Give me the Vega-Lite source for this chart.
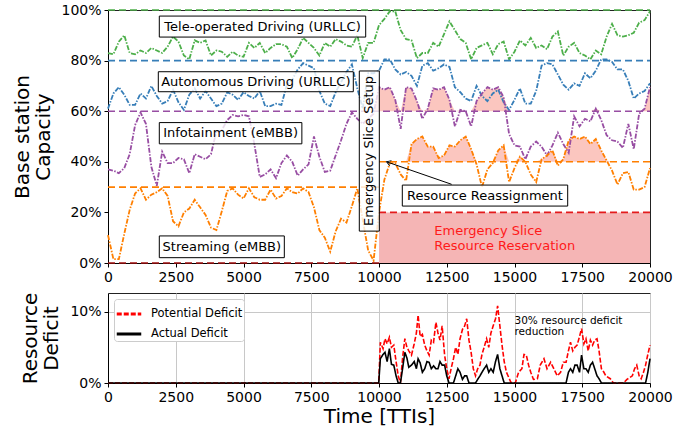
{
  "$schema": "https://vega.github.io/schema/vega-lite/v6.json",
  "padding": {"left": 12, "top": 2, "right": 5, "bottom": 5},
  "background": "white",
  "config": {
    "font": "DejaVu Sans",
    "view": {"stroke": "#222", "strokeWidth": 1},
    "axis": {"labelFont": "DejaVu Sans", "titleFont": "DejaVu Sans", "labelFontSize": 14, "titleFontSize": 20, "titleFontWeight": "normal", "labelColor": "black", "titleColor": "black", "domainColor": "black", "tickColor": "black", "tickSize": 4, "grid": false, "labelPadding": 3},
    "text": {"font": "DejaVu Sans"}
  },
  "resolve": {"scale": {"color": "independent", "strokeDash": "independent"}, "legend": {"color": "independent", "strokeDash": "independent"}},
  "datasets": {
    "slices": [
      {"t":0,"tele":83,"auto":61,"info":37,"stream":11},
      {"t":200,"tele":82.5,"auto":67,"info":36.5,"stream":1.5},
      {"t":400,"tele":87.5,"auto":69.5,"info":35.5,"stream":1.5},
      {"t":600,"tele":90,"auto":66.5,"info":37.5,"stream":11.5},
      {"t":800,"tele":83,"auto":62.5,"info":43,"stream":21},
      {"t":1000,"tele":82.5,"auto":62.5,"info":54.5,"stream":27.5},
      {"t":1200,"tele":84,"auto":67,"info":59.5,"stream":29.5},
      {"t":1400,"tele":83,"auto":65,"info":55,"stream":25},
      {"t":1600,"tele":85,"auto":70,"info":38,"stream":27},
      {"t":1800,"tele":84,"auto":66,"info":30.5,"stream":28},
      {"t":2000,"tele":83,"auto":63,"info":44,"stream":29.5},
      {"t":2200,"tele":85.5,"auto":64,"info":39.5,"stream":26.5},
      {"t":2400,"tele":89.5,"auto":68.5,"info":39.5,"stream":16.5},
      {"t":2600,"tele":87.5,"auto":63.5,"info":41.5,"stream":14.5},
      {"t":2800,"tele":82,"auto":60.5,"info":41,"stream":20},
      {"t":3000,"tele":80.5,"auto":66.5,"info":35.5,"stream":21.5},
      {"t":3200,"tele":88,"auto":69,"info":43,"stream":25},
      {"t":3400,"tele":87,"auto":65,"info":42,"stream":22},
      {"t":3600,"tele":88,"auto":68,"info":41,"stream":19},
      {"t":3800,"tele":82,"auto":65,"info":43,"stream":14},
      {"t":4000,"tele":84,"auto":62,"info":52,"stream":13},
      {"t":4200,"tele":83.5,"auto":63,"info":52.5,"stream":20.5},
      {"t":4400,"tele":81.5,"auto":67.5,"info":56.5,"stream":28.5},
      {"t":4600,"tele":83.5,"auto":66.5,"info":58.5,"stream":29.5},
      {"t":4800,"tele":82,"auto":64.5,"info":58,"stream":27},
      {"t":5000,"tele":81.5,"auto":67.5,"info":58.5,"stream":25.5},
      {"t":5200,"tele":87,"auto":66,"info":58,"stream":29.5},
      {"t":5400,"tele":85,"auto":65,"info":47,"stream":26},
      {"t":5600,"tele":87,"auto":68,"info":34,"stream":25},
      {"t":5800,"tele":83,"auto":62,"info":35,"stream":25},
      {"t":6000,"tele":85,"auto":62,"info":37,"stream":29},
      {"t":6200,"tele":86.5,"auto":63,"info":33.5,"stream":25.5},
      {"t":6400,"tele":86.5,"auto":62.5,"info":39.5,"stream":26.5},
      {"t":6600,"tele":85.5,"auto":70.5,"info":42.5,"stream":29.5},
      {"t":6800,"tele":81,"auto":72.5,"info":40,"stream":28},
      {"t":7000,"tele":84.5,"auto":76.5,"info":34.5,"stream":27.5},
      {"t":7200,"tele":89,"auto":79,"info":37,"stream":29.5},
      {"t":7400,"tele":87,"auto":78,"info":39,"stream":28},
      {"t":7600,"tele":85,"auto":77,"info":50,"stream":22},
      {"t":7800,"tele":82,"auto":68,"info":42,"stream":13},
      {"t":8000,"tele":87,"auto":63,"info":36,"stream":10},
      {"t":8200,"tele":85.5,"auto":62,"info":36.5,"stream":4.5},
      {"t":8400,"tele":88.5,"auto":67.5,"info":42.5,"stream":12.5},
      {"t":8600,"tele":87.5,"auto":71.5,"info":48.5,"stream":17.5},
      {"t":8800,"tele":86,"auto":75.5,"info":55,"stream":16},
      {"t":9000,"tele":85.5,"auto":78.5,"info":59.5,"stream":22.5},
      {"t":9200,"tele":90,"auto":69,"info":57,"stream":29.5},
      {"t":9400,"tele":81,"auto":61,"info":55,"stream":17},
      {"t":9600,"tele":87,"auto":75,"info":57,"stream":5},
      {"t":9800,"tele":87,"auto":75,"info":59,"stream":1},
      {"t":10000,"tele":94,"auto":76,"info":69.5,"stream":20},
      {"t":10200,"tele":96.5,"auto":80.5,"info":68.5,"stream":33},
      {"t":10400,"tele":99.5,"auto":80.5,"info":69.5,"stream":39.5},
      {"t":10600,"tele":99.5,"auto":76.5,"info":64.5,"stream":39.5},
      {"t":10800,"tele":92,"auto":74.5,"info":53,"stream":35},
      {"t":11000,"tele":88.5,"auto":75.5,"info":69.5,"stream":32.5},
      {"t":11200,"tele":88,"auto":74,"info":69,"stream":47},
      {"t":11400,"tele":81,"auto":70,"info":64,"stream":49},
      {"t":11600,"tele":83,"auto":78,"info":57,"stream":50},
      {"t":11800,"tele":83,"auto":79,"info":61,"stream":46},
      {"t":12000,"tele":87,"auto":76,"info":69,"stream":46},
      {"t":12200,"tele":85.5,"auto":77,"info":68.5,"stream":41.5},
      {"t":12400,"tele":90.5,"auto":78.5,"info":69.5,"stream":42.5},
      {"t":12600,"tele":95.5,"auto":77.5,"info":64.5,"stream":46.5},
      {"t":12800,"tele":92,"auto":69.5,"info":54,"stream":46},
      {"t":13000,"tele":88.5,"auto":67.5,"info":60.5,"stream":48.5},
      {"t":13200,"tele":87,"auto":65,"info":60,"stream":50},
      {"t":13400,"tele":80.5,"auto":64,"info":54,"stream":45},
      {"t":13600,"tele":85,"auto":70,"info":64,"stream":39},
      {"t":13800,"tele":86,"auto":66,"info":67,"stream":30},
      {"t":14000,"tele":87,"auto":64,"info":69.5,"stream":37},
      {"t":14200,"tele":82.5,"auto":67,"info":68.5,"stream":39.5},
      {"t":14400,"tele":86.5,"auto":68.5,"info":69.5,"stream":44.5},
      {"t":14600,"tele":87.5,"auto":63.5,"info":65.5,"stream":46.5},
      {"t":14800,"tele":80.5,"auto":60.5,"info":51,"stream":32},
      {"t":15000,"tele":83.5,"auto":64.5,"info":46.5,"stream":37.5},
      {"t":15200,"tele":88,"auto":69,"info":46,"stream":42},
      {"t":15400,"tele":86,"auto":63,"info":41,"stream":40},
      {"t":15600,"tele":89,"auto":63,"info":46,"stream":35},
      {"t":15800,"tele":85,"auto":68,"info":48,"stream":32},
      {"t":16000,"tele":86,"auto":78,"info":46,"stream":41},
      {"t":16200,"tele":84.5,"auto":79,"info":42.5,"stream":42.5},
      {"t":16400,"tele":89.5,"auto":78.5,"info":46.5,"stream":44.5},
      {"t":16600,"tele":91.5,"auto":74.5,"info":51.5,"stream":38.5},
      {"t":16800,"tele":82,"auto":70.5,"info":47,"stream":41},
      {"t":17000,"tele":85.5,"auto":68.5,"info":43.5,"stream":48.5},
      {"t":17200,"tele":87,"auto":71,"info":58,"stream":50},
      {"t":17400,"tele":83,"auto":70,"info":54,"stream":49},
      {"t":17600,"tele":82,"auto":75,"info":57,"stream":50},
      {"t":17800,"tele":80.5,"auto":73,"info":56,"stream":47},
      {"t":18000,"tele":84,"auto":76,"info":61,"stream":49},
      {"t":18200,"tele":82.5,"auto":80.5,"info":56.5,"stream":44.5},
      {"t":18400,"tele":89.5,"auto":80.5,"info":50.5,"stream":40.5},
      {"t":18600,"tele":94.5,"auto":79.5,"info":48.5,"stream":36.5},
      {"t":18800,"tele":90,"auto":76.5,"info":48,"stream":31},
      {"t":19000,"tele":89.5,"auto":76.5,"info":45.5,"stream":35.5},
      {"t":19200,"tele":90,"auto":72,"info":55,"stream":36},
      {"t":19400,"tele":91,"auto":65,"info":45,"stream":29},
      {"t":19600,"tele":95,"auto":67,"info":59,"stream":29},
      {"t":19800,"tele":96,"auto":68,"info":61,"stream":30},
      {"t":20000,"tele":99.5,"auto":71,"info":69.5,"stream":37.5}
    ],
    "thr": [
      {"s":"tele","y":100,"t":0,"t2":20000},
      {"s":"auto","y":80,"t":0,"t2":20000},
      {"s":"info","y":60,"t":0,"t2":20000},
      {"s":"stream","y":30,"t":0,"t2":10000},
      {"s":"stream","y":40,"t":10000,"t2":20000},
      {"s":"emerg","y":20,"t":10000,"t2":20000},
      {"s":"base","y":0,"t":0,"t2":10000}
    ],
    "boxes": [
      {"label":"Tele-operated Driving (URLLC)","t":1893,"t2":9509,"ylo":89.3,"yhi":97.6,"tc":5701,"yc":93.45},
      {"label":"Autonomous Driving (URLLC)","t":1856,"t2":9052,"ylo":67.7,"yhi":75.6,"tc":5454,"yc":71.65},
      {"label":"Infotainment (eMBB)","t":1893,"t2":7154,"ylo":47.1,"yhi":55.5,"tc":4523,"yc":51.3},
      {"label":"Streaming (eMBB)","t":1893,"t2":6506,"ylo":2.1,"yhi":10.7,"tc":4200,"yc":6.4},
      {"label":"Resource Reassignment","t":10860,"t2":16963,"ylo":22.5,"yhi":30.8,"tc":13911,"yc":26.65}
    ],
    "vbox": [
      {"label":"Emergency Slice Setup","t":9273,"t2":10012,"ylo":12.6,"yhi":75.9,"tc":9642,"yc":44.25}
    ],
    "arrow": [
      {"t":12680,"y":31.1,"t2":10280,"y2":40}
    ],
    "redtext": [
      {"t":12040,"y":12.6,"label":"Emergency Slice"},
      {"t":12040,"y":6.7,"label":"Resource Reservation"}
    ],
    "note": [
      {"t":15000,"y":8.7,"label":"30% resource deficit"},
      {"t":15000,"y":7.1,"label":"reduction"}
    ],
    "deficit": [
      {"t":0,"Potential Deficit":0,"Actual Deficit":0},
      {"t":9990,"Potential Deficit":0,"Actual Deficit":0},
      {"t":10050,"Potential Deficit":5.7,"Actual Deficit":3.4},
      {"t":10150,"Potential Deficit":4.8,"Actual Deficit":4.0},
      {"t":10220,"Potential Deficit":6.2,"Actual Deficit":4.3},
      {"t":10300,"Potential Deficit":5.5,"Actual Deficit":3.0},
      {"t":10383,"Potential Deficit":6.4,"Actual Deficit":4.8},
      {"t":10460,"Potential Deficit":5.0,"Actual Deficit":2.6},
      {"t":10546,"Potential Deficit":5.3,"Actual Deficit":2.5},
      {"t":10630,"Potential Deficit":3.0,"Actual Deficit":1.0},
      {"t":10709,"Potential Deficit":1.0,"Actual Deficit":0},
      {"t":10790,"Potential Deficit":0,"Actual Deficit":0},
      {"t":10870,"Potential Deficit":3.5,"Actual Deficit":2.0},
      {"t":10954,"Potential Deficit":6.2,"Actual Deficit":4.3},
      {"t":11030,"Potential Deficit":5.0,"Actual Deficit":3.5},
      {"t":11100,"Potential Deficit":4.5,"Actual Deficit":2.2},
      {"t":11198,"Potential Deficit":3.9,"Actual Deficit":2.5},
      {"t":11300,"Potential Deficit":5.5,"Actual Deficit":3.0},
      {"t":11380,"Potential Deficit":7.0,"Actual Deficit":2.0},
      {"t":11443,"Potential Deficit":9.5,"Actual Deficit":3.4},
      {"t":11520,"Potential Deficit":6.5,"Actual Deficit":2.8},
      {"t":11600,"Potential Deficit":6.8,"Actual Deficit":1.5},
      {"t":11687,"Potential Deficit":5.3,"Actual Deficit":2.0},
      {"t":11770,"Potential Deficit":4.5,"Actual Deficit":3.0},
      {"t":11850,"Potential Deficit":3.9,"Actual Deficit":2.9},
      {"t":11930,"Potential Deficit":6.0,"Actual Deficit":2.0},
      {"t":12013,"Potential Deficit":5.7,"Actual Deficit":2.4},
      {"t":12100,"Potential Deficit":8.5,"Actual Deficit":2.0},
      {"t":12176,"Potential Deficit":7.0,"Actual Deficit":2.0},
      {"t":12250,"Potential Deficit":6.0,"Actual Deficit":3.0},
      {"t":12330,"Potential Deficit":8.0,"Actual Deficit":2.5},
      {"t":12421,"Potential Deficit":3.9,"Actual Deficit":2.5},
      {"t":12500,"Potential Deficit":2.0,"Actual Deficit":1.0},
      {"t":12584,"Potential Deficit":0.6,"Actual Deficit":0},
      {"t":12660,"Potential Deficit":2.0,"Actual Deficit":0},
      {"t":12747,"Potential Deficit":3.4,"Actual Deficit":0},
      {"t":12830,"Potential Deficit":5.0,"Actual Deficit":1.0},
      {"t":12910,"Potential Deficit":4.0,"Actual Deficit":2.0},
      {"t":12991,"Potential Deficit":6.2,"Actual Deficit":1.5},
      {"t":13080,"Potential Deficit":7.5,"Actual Deficit":0.5},
      {"t":13160,"Potential Deficit":8.0,"Actual Deficit":1.0},
      {"t":13236,"Potential Deficit":9.0,"Actual Deficit":1.0},
      {"t":13320,"Potential Deficit":6.0,"Actual Deficit":0},
      {"t":13399,"Potential Deficit":4.3,"Actual Deficit":0},
      {"t":13480,"Potential Deficit":2.0,"Actual Deficit":0},
      {"t":13562,"Potential Deficit":1.0,"Actual Deficit":0},
      {"t":13640,"Potential Deficit":2.0,"Actual Deficit":0.5},
      {"t":13725,"Potential Deficit":2.5,"Actual Deficit":1.0},
      {"t":13800,"Potential Deficit":4.0,"Actual Deficit":1.5},
      {"t":13880,"Potential Deficit":5.0,"Actual Deficit":2.0},
      {"t":13970,"Potential Deficit":6.2,"Actual Deficit":2.5},
      {"t":14050,"Potential Deficit":5.0,"Actual Deficit":1.5},
      {"t":14130,"Potential Deficit":7.0,"Actual Deficit":2.0},
      {"t":14214,"Potential Deficit":8.0,"Actual Deficit":1.5},
      {"t":14300,"Potential Deficit":9.0,"Actual Deficit":3.0},
      {"t":14377,"Potential Deficit":10.8,"Actual Deficit":4.0},
      {"t":14460,"Potential Deficit":8.0,"Actual Deficit":2.0},
      {"t":14540,"Potential Deficit":5.3,"Actual Deficit":1.0},
      {"t":14620,"Potential Deficit":3.0,"Actual Deficit":0},
      {"t":14703,"Potential Deficit":1.5,"Actual Deficit":0},
      {"t":14866,"Potential Deficit":0.1,"Actual Deficit":0},
      {"t":15029,"Potential Deficit":0,"Actual Deficit":0},
      {"t":15150,"Potential Deficit":1.5,"Actual Deficit":0},
      {"t":15273,"Potential Deficit":2.0,"Actual Deficit":0},
      {"t":15350,"Potential Deficit":4.0,"Actual Deficit":0},
      {"t":15436,"Potential Deficit":3.9,"Actual Deficit":0},
      {"t":15520,"Potential Deficit":2.5,"Actual Deficit":0},
      {"t":15600,"Potential Deficit":1.5,"Actual Deficit":0},
      {"t":15700,"Potential Deficit":0.5,"Actual Deficit":0},
      {"t":15844,"Potential Deficit":0.6,"Actual Deficit":0},
      {"t":15950,"Potential Deficit":2.5,"Actual Deficit":0},
      {"t":16088,"Potential Deficit":3.4,"Actual Deficit":0},
      {"t":16200,"Potential Deficit":2.0,"Actual Deficit":0},
      {"t":16333,"Potential Deficit":2.9,"Actual Deficit":0},
      {"t":16450,"Potential Deficit":2.0,"Actual Deficit":0},
      {"t":16577,"Potential Deficit":1.0,"Actual Deficit":0},
      {"t":16700,"Potential Deficit":1.5,"Actual Deficit":0},
      {"t":16800,"Potential Deficit":2.9,"Actual Deficit":0},
      {"t":16903,"Potential Deficit":2.9,"Actual Deficit":0},
      {"t":16990,"Potential Deficit":4.5,"Actual Deficit":1.5},
      {"t":17066,"Potential Deficit":5.7,"Actual Deficit":2.0},
      {"t":17150,"Potential Deficit":4.5,"Actual Deficit":1.5},
      {"t":17230,"Potential Deficit":5.0,"Actual Deficit":2.5},
      {"t":17311,"Potential Deficit":5.3,"Actual Deficit":2.5},
      {"t":17400,"Potential Deficit":6.5,"Actual Deficit":1.5},
      {"t":17474,"Potential Deficit":7.6,"Actual Deficit":3.9},
      {"t":17560,"Potential Deficit":5.5,"Actual Deficit":2.0},
      {"t":17637,"Potential Deficit":6.2,"Actual Deficit":2.0},
      {"t":17720,"Potential Deficit":4.5,"Actual Deficit":1.5},
      {"t":17800,"Potential Deficit":6.0,"Actual Deficit":2.5},
      {"t":17881,"Potential Deficit":5.3,"Actual Deficit":2.9},
      {"t":17960,"Potential Deficit":6.0,"Actual Deficit":2.0},
      {"t":18045,"Potential Deficit":6.2,"Actual Deficit":1.0},
      {"t":18120,"Potential Deficit":4.5,"Actual Deficit":0.6},
      {"t":18207,"Potential Deficit":2.0,"Actual Deficit":0},
      {"t":18300,"Potential Deficit":1.5,"Actual Deficit":0},
      {"t":18370,"Potential Deficit":1.0,"Actual Deficit":0},
      {"t":18533,"Potential Deficit":0.6,"Actual Deficit":0},
      {"t":18650,"Potential Deficit":0,"Actual Deficit":0},
      {"t":19022,"Potential Deficit":0,"Actual Deficit":0},
      {"t":19150,"Potential Deficit":0.5,"Actual Deficit":0},
      {"t":19348,"Potential Deficit":1.0,"Actual Deficit":0},
      {"t":19430,"Potential Deficit":2.0,"Actual Deficit":0},
      {"t":19511,"Potential Deficit":2.5,"Actual Deficit":0},
      {"t":19600,"Potential Deficit":1.0,"Actual Deficit":0},
      {"t":19674,"Potential Deficit":0.6,"Actual Deficit":0},
      {"t":19760,"Potential Deficit":1.5,"Actual Deficit":0},
      {"t":19837,"Potential Deficit":2.5,"Actual Deficit":0},
      {"t":19920,"Potential Deficit":4.0,"Actual Deficit":1.5},
      {"t":20000,"Potential Deficit":5.3,"Actual Deficit":3.4}
    ]
  },
  "spacing": 6,
  "vconcat": [
    {
      "width": 542,
      "height": 253,
      "resolve": {"scale": {"y": "independent"}},
      "layer": [
        {
          "data": {"values": [{"t": 10000, "t2": 20000, "lo": 0, "hi": 20}]},
          "mark": {"type": "rect", "color": "#f5b5b5"},
          "encoding": {
            "x": {"field": "t", "type": "quantitative", "title": null, "scale": {"domain": [0, 20000], "nice": false, "zero": false}, "axis": {"values": [0, 2500, 5000, 7500, 10000, 12500, 15000, 17500, 20000], "format": "d", "labelFlush": false, "title": null}},
            "x2": {"field": "t2"},
            "y": {"field": "lo", "type": "quantitative", "scale": {"domain": [0, 100], "nice": false, "zero": false}, "axis": {"values": [0, 20, 40, 60, 80, 100], "labelExpr": "datum.value + '%'", "title": ["Base station", "Capacity"], "titlePadding": 7, "titleLineHeight": 21}},
            "y2": {"field": "hi"}
          }
        },
        {
          "data": {"name": "slices"},
          "mark": {"type": "area", "color": "#fbc6bf"},
          "encoding": {
            "x": {"field": "t", "type": "quantitative", "title": null},
            "y": {"field": "info", "type": "quantitative", "scale": {"domain": [60, 100], "range": [101.2, 0], "clamp": true, "nice": false, "zero": false}, "axis": null},
            "y2": {"datum": 60}
          }
        },
        {
          "data": {"name": "slices"},
          "mark": {"type": "area", "color": "#fbc6bf"},
          "encoding": {
            "x": {"field": "t", "type": "quantitative", "title": null},
            "y": {"field": "stream", "type": "quantitative", "scale": {"domain": [40, 100], "range": [151.8, 0], "clamp": true, "nice": false, "zero": false}, "axis": null},
            "y2": {"datum": 40}
          }
        },
        {
          "data": {"name": "slices"},
          "transform": [{"fold": ["tele", "auto", "info", "stream"], "as": ["s", "v"]}],
          "mark": {"type": "line", "strokeWidth": 1.8, "strokeDash": [5, 1.5, 1.5, 1.5]},
          "encoding": {
            "x": {"field": "t", "type": "quantitative", "title": null},
            "y": {"field": "v", "type": "quantitative", "scale": {"domain": [0, 100], "nice": false, "zero": false}, "axis": null},
            "color": {"field": "s", "type": "nominal", "legend": null, "scale": {"domain": ["tele", "auto", "info", "stream", "emerg", "base"], "range": ["#4daf4a", "#377eb8", "#984ea3", "#ff7f00", "#e41a1c", "#a01010"]}}
          }
        },
        {
          "data": {"name": "thr"},
          "mark": {"type": "rule", "strokeDash": [7, 4], "strokeWidth": 1.6},
          "encoding": {
            "x": {"field": "t", "type": "quantitative", "title": null},
            "x2": {"field": "t2"},
            "y": {"field": "y", "type": "quantitative", "scale": {"domain": [0, 100], "nice": false, "zero": false}, "axis": null},
            "color": {"field": "s", "type": "nominal", "legend": null}
          }
        },
        {
          "mark": {"type": "rule", "color": "black", "strokeDash": [2, 2], "strokeWidth": 1},
          "encoding": {
            "x": {"datum": 10000, "type": "quantitative"},
            "y": {"datum": 20, "type": "quantitative", "scale": {"domain": [0, 100], "nice": false, "zero": false}, "axis": null},
            "y2": {"datum": 100}
          }
        },
        {
          "mark": {"type": "rule", "color": "#e41a1c", "strokeDash": [6, 3], "strokeWidth": 1.6},
          "encoding": {
            "x": {"datum": 10000, "type": "quantitative"},
            "y": {"datum": 0, "type": "quantitative", "scale": {"domain": [0, 100], "nice": false, "zero": false}, "axis": null},
            "y2": {"datum": 20}
          }
        },
        {
          "data": {"name": "boxes"},
          "mark": {"type": "rect", "fill": "white", "fillOpacity": 0.8, "stroke": "black", "strokeWidth": 1},
          "encoding": {
            "x": {"field": "t", "type": "quantitative", "title": null},
            "x2": {"field": "t2"},
            "y": {"field": "ylo", "type": "quantitative", "scale": {"domain": [0, 100], "nice": false, "zero": false}, "axis": null},
            "y2": {"field": "yhi"}
          }
        },
        {
          "data": {"name": "boxes"},
          "mark": {"type": "text", "fontSize": 13, "color": "black", "align": "center", "baseline": "middle"},
          "encoding": {
            "x": {"field": "tc", "type": "quantitative", "title": null},
            "y": {"field": "yc", "type": "quantitative", "scale": {"domain": [0, 100], "nice": false, "zero": false}, "axis": null},
            "text": {"field": "label"}
          }
        },
        {
          "data": {"name": "vbox"},
          "mark": {"type": "rect", "fill": "white", "fillOpacity": 0.8, "stroke": "black", "strokeWidth": 1},
          "encoding": {
            "x": {"field": "t", "type": "quantitative", "title": null},
            "x2": {"field": "t2"},
            "y": {"field": "ylo", "type": "quantitative", "scale": {"domain": [0, 100], "nice": false, "zero": false}, "axis": null},
            "y2": {"field": "yhi"}
          }
        },
        {
          "data": {"name": "vbox"},
          "mark": {"type": "text", "fontSize": 13, "color": "black", "align": "center", "baseline": "middle", "angle": 270},
          "encoding": {
            "x": {"field": "tc", "type": "quantitative", "title": null},
            "y": {"field": "yc", "type": "quantitative", "scale": {"domain": [0, 100], "nice": false, "zero": false}, "axis": null},
            "text": {"field": "label"}
          }
        },
        {
          "data": {"name": "arrow"},
          "mark": {"type": "rule", "color": "black", "strokeWidth": 1},
          "encoding": {
            "x": {"field": "t", "type": "quantitative", "title": null},
            "x2": {"field": "t2"},
            "y": {"field": "y", "type": "quantitative", "scale": {"domain": [0, 100], "nice": false, "zero": false}, "axis": null},
            "y2": {"field": "y2"}
          }
        },
        {
          "data": {"name": "arrow"},
          "mark": {"type": "point", "shape": "M-0.7,1.1L0,0L0.7,1.1", "filled": false, "stroke": "black", "strokeWidth": 1, "size": 60, "angle": 289, "opacity": 1},
          "encoding": {
            "x": {"field": "t2", "type": "quantitative", "title": null},
            "y": {"field": "y2", "type": "quantitative", "scale": {"domain": [0, 100], "nice": false, "zero": false}, "axis": null}
          }
        },
        {
          "data": {"name": "redtext"},
          "mark": {"type": "text", "fontSize": 13, "color": "#ff1a1a", "align": "left", "baseline": "middle"},
          "encoding": {
            "x": {"field": "t", "type": "quantitative", "title": null},
            "y": {"field": "y", "type": "quantitative", "scale": {"domain": [0, 100], "nice": false, "zero": false}, "axis": null},
            "text": {"field": "label"}
          }
        }
      ]
    },
    {
      "width": 542,
      "height": 90,
      "layer": [
        {
          "mark": {"type": "rule", "color": "black", "strokeDash": [6, 3], "strokeWidth": 2},
          "encoding": {
            "x": {"datum": 10000, "type": "quantitative", "title": "Time [TTIs]", "scale": {"domain": [0, 20000], "nice": false, "zero": false}, "axis": {"values": [0, 2500, 5000, 7500, 10000, 12500, 15000, 17500, 20000], "format": "d", "labelFlush": false, "title": "Time [TTIs]", "grid": true, "gridColor": "#c8c8c8", "titlePadding": 2}}
          }
        },
        {
          "data": {"name": "deficit"},
          "transform": [{"fold": ["Potential Deficit", "Actual Deficit"], "as": ["d", "v"]}],
          "mark": {"type": "line", "strokeWidth": 1.6},
          "encoding": {
            "x": {"field": "t", "type": "quantitative", "title": "Time [TTIs]"},
            "y": {"field": "v", "type": "quantitative", "scale": {"domain": [0, 12.6], "nice": false, "zero": false}, "axis": {"values": [0, 10], "labelExpr": "datum.value + '%'", "title": ["Resource", "Deficit"], "grid": true, "gridColor": "#c8c8c8", "titlePadding": 8, "titleLineHeight": 21}},
            "color": {"field": "d", "type": "nominal", "scale": {"domain": ["Potential Deficit", "Actual Deficit"], "range": ["#ff0000", "black"]}, "legend": {"title": null, "orient": "top-left", "offset": 6, "fillColor": "white", "strokeColor": "#cccccc", "padding": 1, "cornerRadius": 3, "labelFontSize": 11.5, "labelFont": "DejaVu Sans", "symbolType": "stroke", "symbolSize": 600, "symbolStrokeWidth": 3, "rowPadding": -8, "labelOffset": 8}},
            "strokeDash": {"field": "d", "type": "nominal", "scale": {"domain": ["Potential Deficit", "Actual Deficit"], "range": [[5, 2], [1, 0]]}, "legend": {"title": null, "orient": "top-left", "offset": 6, "fillColor": "white", "strokeColor": "#cccccc", "padding": 1, "cornerRadius": 3, "labelFontSize": 11.5, "labelFont": "DejaVu Sans", "symbolType": "stroke", "symbolSize": 600, "symbolStrokeWidth": 3, "rowPadding": -8, "labelOffset": 8}}
          }
        },
        {
          "data": {"name": "note"},
          "mark": {"type": "text", "fontSize": 10.5, "color": "black", "align": "left", "baseline": "middle"},
          "encoding": {
            "x": {"field": "t", "type": "quantitative", "title": "Time [TTIs]"},
            "y": {"field": "y", "type": "quantitative"},
            "text": {"field": "label"}
          }
        }
      ]
    }
  ]
}
